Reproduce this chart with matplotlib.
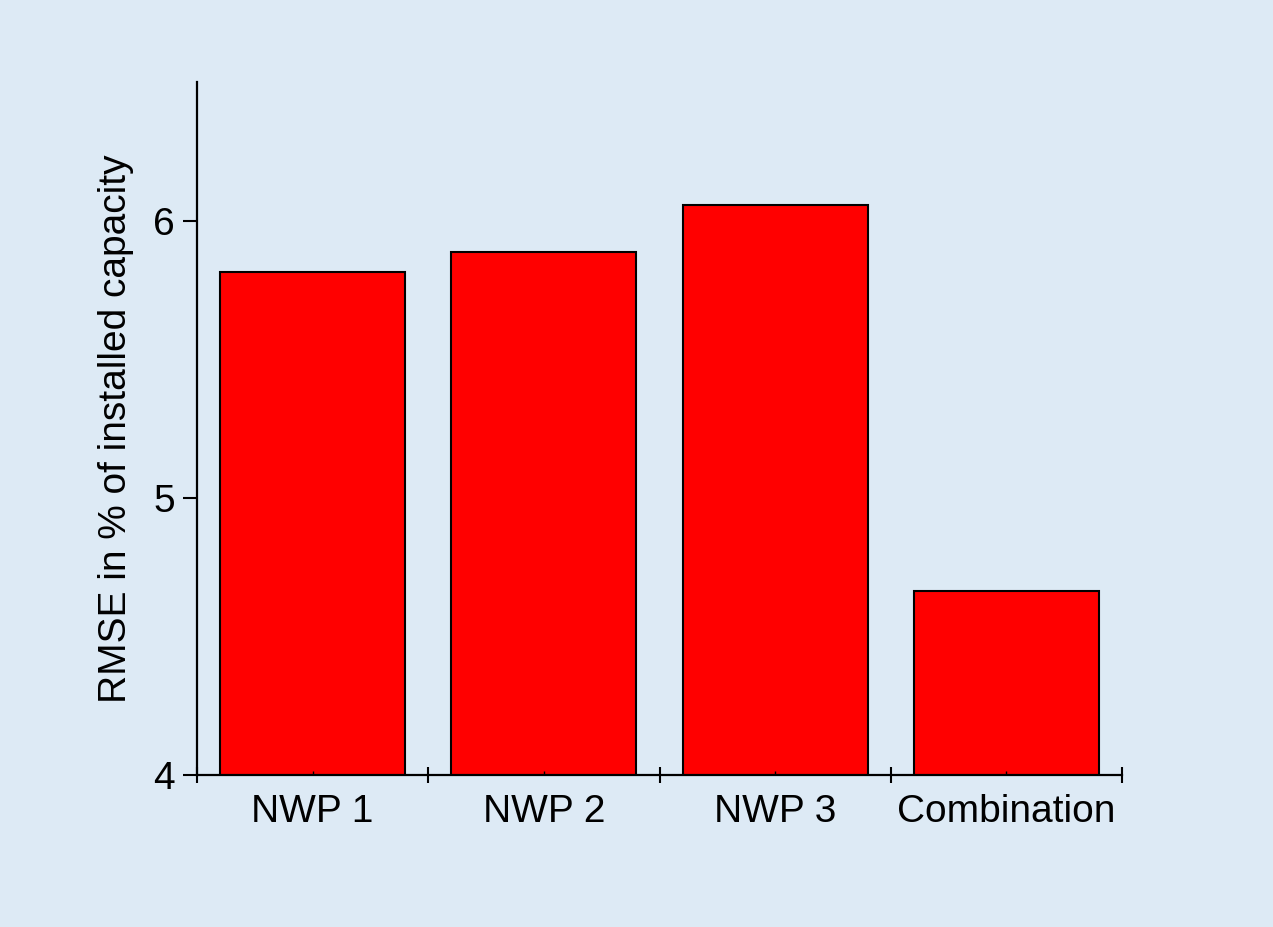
import matplotlib.pyplot as plt
import numpy as np

# Daten
categorias = ["NWP 1", "NWP 2", "NWP 3", "Combination"]
rmse = [5.815, 5.885, 6.055, 4.665]

plt.rcParams['font.family'] = ['Liberation Sans', 'DejaVu Sans']

fundo = "#DDEAF5"
fig = plt.figure(figsize=(12.73, 9.27), dpi=100, facecolor=fundo)
ax = fig.add_axes([0.1548, 0.164, 0.7266, 0.7476])
ax.set_facecolor(fundo)

x = np.arange(len(categorias))
ax.bar(x, rmse, width=0.8, bottom=0, color="#FF0000", edgecolor="black", linewidth=1.5)

ax.set_xlim(-0.5, len(categorias) - 0.5)
ax.set_ylim(4, 6.5)

# Eixos
for lado in ["top", "right"]:
    ax.spines[lado].set_visible(False)
for lado in ["left", "bottom"]:
    ax.spines[lado].set_linewidth(1.6)

ax.set_yticks([4, 5, 6])
ax.set_yticklabels(["4", "5", "6"])
ax.tick_params(axis="y", direction="out", length=10, width=1.5, labelsize=28, pad=6)

# rótulos nos centros, marcas de separação entre as barras
ax.set_xticks(x)
ax.set_xticklabels(categorias)
ax.tick_params(axis="x", which="major", direction="in", length=3, width=1, labelsize=28, pad=14)
ax.set_xticks(np.arange(-0.5, len(categorias)), minor=True)
ax.tick_params(axis="x", which="minor", direction="inout", length=12, width=1.5)

ax.set_ylabel("RMSE in % of installed capacity", fontsize=28, labelpad=14)

fig.savefig("out.png", dpi=100, facecolor=fundo)
